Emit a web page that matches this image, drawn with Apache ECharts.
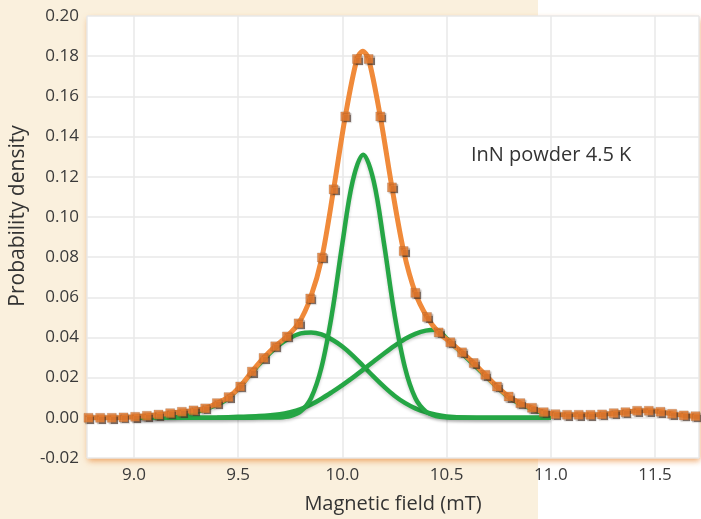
<!DOCTYPE html>
<html>
<head>
<meta charset="utf-8">
<script src="https://cdn.jsdelivr.net/npm/echarts@6/dist/echarts.min.js"></script>
<style>
html,body{margin:0;padding:0;background:#ffffff;}
#chart{width:701px;height:519px;}
</style>
</head>
<body>
<div id="chart"></div>
<script>
// ---- data ----
const markerX = [8.782, 8.838, 8.894, 8.95, 9.006, 9.062, 9.118, 9.174, 9.23, 9.286, 9.342, 9.398, 9.454, 9.51, 9.566, 9.622, 9.678, 9.734, 9.79, 9.846, 9.902, 9.958, 10.014, 10.07,
  10.126, 10.182, 10.238, 10.294, 10.35, 10.406, 10.462, 10.518, 10.574, 10.63, 10.686, 10.742, 10.798, 10.854, 10.91, 10.966, 11.022, 11.078, 11.134, 11.19, 11.246, 11.302, 11.358, 11.414, 11.47, 11.526, 11.582, 11.638, 11.694];
const markerY = [0.0000, 0.0000, 0.0000, 0.0002, 0.0005, 0.0010, 0.0016, 0.0023, 0.0030, 0.0037, 0.0047, 0.0073, 0.0103, 0.0156, 0.0230, 0.0298, 0.0356, 0.0405, 0.0470, 0.0594, 0.0798, 0.1137, 0.1500, 0.1786,
  0.1786, 0.1500, 0.1147, 0.0830, 0.0622, 0.0502, 0.0425, 0.0376, 0.0326, 0.0273, 0.0214, 0.0156, 0.0106, 0.0073, 0.0050, 0.0028, 0.0018, 0.0015, 0.0015, 0.0015, 0.0017, 0.0023, 0.0028, 0.0035, 0.0035, 0.0030, 0.0020, 0.0012, 0.0008];

const fitX = [8.775, 8.838, 8.894, 8.95, 9.006, 9.062, 9.118, 9.174, 9.23, 9.286, 9.342, 9.398, 9.454, 9.51, 9.566, 9.622, 9.678, 9.734, 9.79, 9.846, 9.902, 9.958, 10.014, 10.07, 10.098,
  10.126, 10.182, 10.238, 10.294, 10.35, 10.406, 10.462, 10.518, 10.574, 10.63, 10.686, 10.742, 10.798, 10.854, 10.91, 10.966, 11.022, 11.078, 11.134, 11.19, 11.246, 11.302, 11.358, 11.414, 11.47, 11.526, 11.582, 11.638, 11.715];
const fitY = [0.0000, 0.0000, 0.0000, 0.0002, 0.0005, 0.0010, 0.0016, 0.0023, 0.0030, 0.0037, 0.0047, 0.0073, 0.0103, 0.0156, 0.0230, 0.0298, 0.0356, 0.0405, 0.0470, 0.0594, 0.0798, 0.1137, 0.1500, 0.1786, 0.1825,
  0.1786, 0.1500, 0.1147, 0.0830, 0.0622, 0.0502, 0.0425, 0.0376, 0.0326, 0.0273, 0.0214, 0.0156, 0.0106, 0.0073, 0.0050, 0.0028, 0.0018, 0.0015, 0.0015, 0.0015, 0.0017, 0.0023, 0.0028, 0.0035, 0.0035, 0.0030, 0.0020, 0.0012, 0.0007];

const centralX = [9.0, 9.5, 9.6, 9.7, 9.75, 9.8, 9.85, 9.9, 9.95, 10.0, 10.05, 10.1, 10.15, 10.2, 10.25, 10.3, 10.35, 10.4, 10.45, 10.5, 10.6, 11.0];
const centralY = [0.0, 0.0, 0.0001, 0.0002, 0.0008, 0.0032, 0.0099, 0.0252, 0.0517, 0.0867, 0.1180, 0.1310, 0.1180, 0.0867, 0.0517, 0.0252, 0.0099, 0.0032, 0.0008, 0.0002, 0.0, 0.0];

const leftX = [9.0, 9.1, 9.2, 9.3, 9.4, 9.45, 9.5, 9.55, 9.6, 9.65, 9.7, 9.75, 9.8, 9.85, 9.9, 9.95, 10.0, 10.05, 10.1, 10.15, 10.2, 10.25, 10.3, 10.35, 10.4, 10.45, 10.5, 10.6, 10.7, 11.0];
const leftY = [0.0, 0.0002, 0.0008, 0.0028, 0.0065, 0.0095, 0.0145, 0.0205, 0.0265, 0.0320, 0.0365, 0.0398, 0.0420, 0.0425, 0.0415, 0.0390, 0.0355, 0.0310, 0.0258, 0.0205, 0.0155, 0.0110, 0.0074, 0.0047, 0.0028, 0.0015, 0.0007, 0.0001, 0.0, 0.0];

const rightX = [9.0, 9.4, 9.5, 9.6, 9.7, 9.75, 9.8, 9.85, 9.9, 9.95, 10.0, 10.05, 10.1, 10.15, 10.2, 10.25, 10.3, 10.35, 10.4, 10.45, 10.5, 10.55, 10.6, 10.65, 10.7, 10.75, 10.8, 10.85, 10.9, 10.95, 11.0];
const rightY = [0.0, 0.0002, 0.0005, 0.0009, 0.0018, 0.0028, 0.0043, 0.0066, 0.0095, 0.0128, 0.0163, 0.0200, 0.0240, 0.0280, 0.0320, 0.0358, 0.0392, 0.0418, 0.0434, 0.0438, 0.0395, 0.0345, 0.0295, 0.0245, 0.0195, 0.0145, 0.0100, 0.0070, 0.0048, 0.0028, 0.0015];

const yTicks = [-0.02, 0.00, 0.02, 0.04, 0.06, 0.08, 0.10, 0.12, 0.14, 0.16, 0.18, 0.20];
const xTicks = [9.0, 9.5, 10.0, 10.5, 11.0, 11.5];
const annotation = 'InN powder 4.5 K';

const zip = (xs, ys) => xs.map((x, i) => [x, ys[i]]);

const FONT = '"Open Sans", "Noto Sans", sans-serif';
const GREEN = '#25a645';
const chart = echarts.init(document.getElementById('chart'), null, {renderer: 'canvas'});

const greenLine = (name, xs, ys) => ({
  name, type: 'line', data: zip(xs, ys), smooth: 0.35, showSymbol: false, z: 3,
  lineStyle: {color: GREEN, width: 4.5, shadowColor: 'rgba(0,0,0,0.18)', shadowBlur: 3, shadowOffsetY: 2},
  silent: true
});

chart.setOption({
  backgroundColor: '#ffffff',
  animation: false,
  graphic: {
    elements: [
      {type: 'rect', z: -100, silent: true, shape: {x: 0, y: 0, width: 538, height: 519}, style: {fill: '#faf0dd'}},
      {type: 'text', z: 100, left: 471, top: 145, style: {text: annotation, font: '20px ' + FONT, fill: '#333333'}}
    ]
  },
  grid: {
    left: 86, right: 2, top: 16, bottom: 60,
    show: true, backgroundColor: '#ffffff', borderWidth: 0,
    shadowColor: 'rgba(235,140,60,0.75)', shadowBlur: 6, shadowOffsetX: 1, shadowOffsetY: 3
  },
  xAxis: {
    type: 'value', min: 8.775, max: 11.711, splitNumber: 6,
    name: 'Magnetic field (mT)', nameLocation: 'middle', nameGap: 36,
    nameTextStyle: {fontFamily: FONT, fontSize: 20, color: '#333333'},
    axisLine: {show: false}, axisTick: {show: false},
    axisLabel: {fontFamily: FONT, fontSize: 17, color: '#3a3a3a', margin: 9, showMinLabel: false, showMaxLabel: false,
      formatter: v => xTicks.some(t => Math.abs(t - v) < 1e-6) ? v.toFixed(1) : ''},
    splitLine: {show: true, lineStyle: {color: '#e9e9e9', width: 1.5}}
  },
  yAxis: {
    type: 'value', min: yTicks[0], max: yTicks[yTicks.length - 1], interval: 0.02,
    name: 'Probability density', nameLocation: 'middle', nameGap: 57,
    nameTextStyle: {fontFamily: FONT, fontSize: 21, color: '#333333', padding: [0, 0, 0, 42]},
    axisLine: {show: false}, axisTick: {show: false},
    axisLabel: {fontFamily: FONT, fontSize: 17, color: '#3a3a3a', margin: 8, formatter: v => v.toFixed(2)},
    splitLine: {show: true, lineStyle: {color: '#e9e9e9', width: 1.5}}
  },
  series: [
    greenLine('left', leftX, leftY),
    greenLine('right', rightX, rightY),
    greenLine('central', centralX, centralY),
    {
      name: 'fit', type: 'line', data: zip(fitX, fitY), smooth: 0.3, showSymbol: false, z: 4, silent: true,
      lineStyle: {color: '#f08a3a', width: 5}
    },
    {
      name: 'data', type: 'scatter', data: zip(markerX, markerY), symbol: 'rect', symbolSize: 9, z: 5, silent: true,
      itemStyle: {color: '#ee7d2c', borderColor: 'rgba(120,80,50,0.6)', borderWidth: 0.5,
        shadowColor: 'rgba(70,50,40,0.85)', shadowBlur: 1, shadowOffsetX: 1.5, shadowOffsetY: 1.5}
    }
  ]
});
</script>
</body>
</html>
